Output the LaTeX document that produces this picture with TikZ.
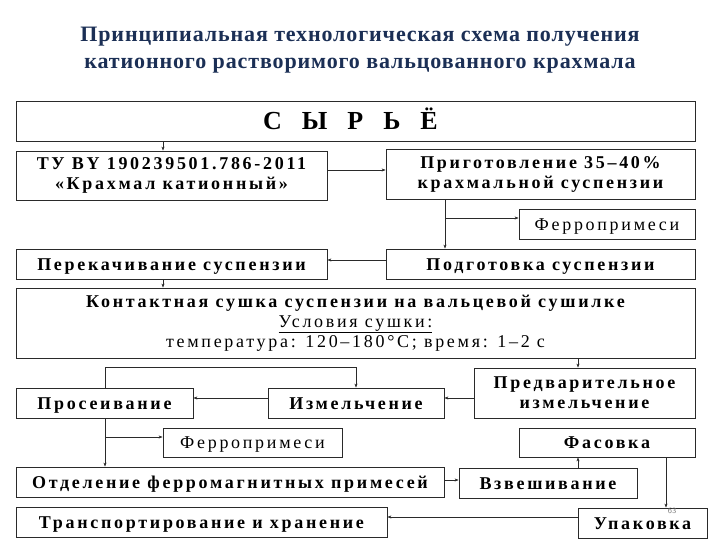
\documentclass[tikz,border=0pt]{standalone}
\usepackage{fontspec}
\setmainfont{Liberation Serif}
\newfontfamily\boxfont[LetterSpace=15]{Liberation Serif}
\newfontfamily\titlefont[LetterSpace=4]{Liberation Serif}
\newfontfamily\rawfont{Liberation Serif}
\usetikzlibrary{arrows.meta,calc}
\definecolor{titleblue}{HTML}{1B2F55}
\definecolor{linegray}{HTML}{2A2A2A}
\tikzset{
  box/.style={draw=linegray,line width=0.8pt,inner sep=0pt,align=center,font=\boxfont\bfseries\fontsize{18}{20}\selectfont,text=black},
  one/.style={box,text height=12.5pt,text depth=0.5pt},
  thinbox/.style={one,font=\boxfont\fontsize{18}{20}\selectfont},
  conn/.style={draw=linegray,line width=0.6pt},
  arr/.style={conn,-{Stealth[length=4pt,width=3pt]}}
}
\begin{document}
\begin{tikzpicture}[x=1pt,y=-1pt]
\useasboundingbox (0,0) rectangle (720,540);
\fill[white] (0,0) rectangle (720,540);
% title
\node[font=\titlefont\bfseries\fontsize{22}{27}\selectfont,text=titleblue,align=center] (title) at (360,50.5)
 {Принципиальная технологическая схема получения\\катионного растворимого вальцованного крахмала};
% boxes
\node[one,minimum width=679,minimum height=40,text height=18pt,text depth=0pt,font=\rawfont\bfseries\fontsize{26}{28}\selectfont] (raw) at (355.5,121)
 {С\hspace{20pt}Ы\hspace{20pt}Р\hspace{20pt}Ь\hspace{20pt}Ё\hspace{10pt}};
\node[box,minimum width=311,minimum height=49] (tu) at (171.5,175.5) {ТУ BY 190239501.786-2011\\«Крахмал катионный»};
\node[box,minimum width=309,minimum height=50] (prep) at (540.5,174) {Приготовление 35–40\%\\крахмальной суспензии};
\node[thinbox,minimum width=176,minimum height=30] (fe1) at (607,224) {Ферропримеси};
\node[one,minimum width=309,minimum height=30] (podg) at (540.5,264) {Подготовка суспензии};
\node[one,minimum width=311,minimum height=30] (perek) at (171.5,264) {Перекачивание суспензии};
\node[box,minimum width=679,minimum height=70] (dry) at (355.5,323) {Контактная сушка суспензии на вальцевой сушилке\\
  {\mdseries\underline{Условия сушки:}}\\{\mdseries температура: 120–180°C; время: 1–2 с}};
\node[box,minimum width=221,minimum height=50] (pred) at (584.5,393) {Предварительное\\измельчение};
\node[one,minimum width=176,minimum height=30] (izm) at (356,403) {Измельчение};
\node[one,minimum width=177,minimum height=30] (pros) at (104.5,403) {Просеивание};
\node[thinbox,minimum width=179,minimum height=29] (fe2) at (252.5,442.5) {Ферропримеси};
\node[one,minimum width=428,minimum height=30] (otd) at (230,482) {Отделение ферромагнитных примесей};
\node[one,minimum width=178,minimum height=30] (vzv) at (548,483) {Взвешивание};
\node[one,minimum width=176,minimum height=29] (fas) at (607,442.5) {Фасовка};
\node[one,minimum width=129,minimum height=30] (upak) at (642.5,523) {Упаковка};
\node[one,minimum width=371,minimum height=30] (trans) at (201.5,522) {Транспортирование и хранение};
\node[font=\sffamily\fontsize{8}{9}\selectfont,text=gray,inner sep=0pt] (pg) at (672,510.5) {63};
% helper coordinates
\coordinate (xa) at (163,0);
\coordinate (xb) at (445,0);
\coordinate (xc) at (578,0);
\coordinate (xd) at (105,0);
\coordinate (xe) at (666,0);
\coordinate (yb) at (0,218);
\coordinate (yc) at (0,437);
% connectors
\draw[arr] (raw.south -| xa) -- (tu.north -| xa);
\draw[arr] ([yshift=5.5pt]tu.east) -- ([yshift=5.5pt]tu.east -| prep.west);
\draw[arr] (prep.south -| xb) -- (podg.north -| xb);
\draw[arr] (yb -| xb) -- (yb -| fe1.west);
\draw[arr] ([yshift=4pt]podg.west) -- ([yshift=4pt]podg.west -| perek.east);
\draw[arr] (perek.south -| xa) -- (dry.north -| xa);
\draw[arr] (dry.south -| xc) -- (pred.north -| xc);
\draw[arr] ([yshift=5pt]pred.west |- izm.center) -- ([yshift=5pt]izm.east);
\draw[arr] ([yshift=5pt]izm.west) -- ([yshift=5pt]pros.east);
\draw[arr] (pros.north -| xd) -- ++(0,-20) -| (izm.north);
\draw[arr] (pros.south -| xd) -- (otd.north -| xd);
\draw[arr] (yc -| xd) -- (yc -| fe2.west);
\draw[arr] ([yshift=2pt]otd.east) -- ([yshift=2pt]otd.east -| vzv.west);
\draw[arr] (vzv.north -| xc) -- (fas.south -| xc);
\draw[arr] (fas.south -| xe) -- (upak.north -| xe);
\draw[arr] ([yshift=6pt]upak.west) -- ([yshift=6pt]upak.west -| trans.east);
\end{tikzpicture}
\end{document}
